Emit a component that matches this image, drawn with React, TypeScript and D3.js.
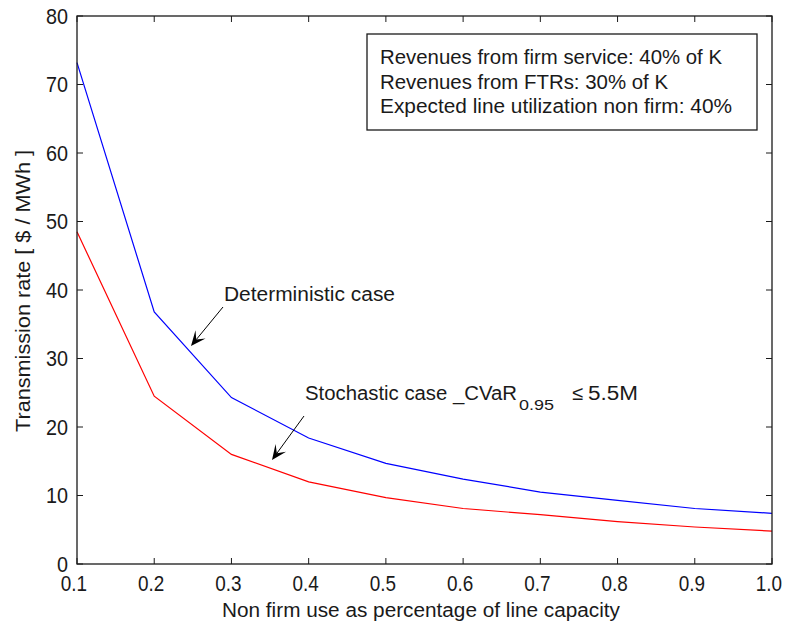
import React from "react";
import * as d3 from "d3";

// Non-firm use share of line capacity
const usage = [0.1, 0.2, 0.3, 0.4, 0.5, 0.6, 0.7, 0.8, 0.9, 1.0];
// Transmission rate, deterministic case [$ / MWh]
const deterministic = [73.2, 36.8, 24.3, 18.4, 14.7, 12.4, 10.5, 9.3, 8.1, 7.4];
// Transmission rate, stochastic case with CVaR constraint [$ / MWh]
const stochastic = [48.5, 24.5, 16.0, 12.0, 9.7, 8.1, 7.2, 6.2, 5.4, 4.8];

const xTicks = [0.1, 0.2, 0.3, 0.4, 0.5, 0.6, 0.7, 0.8, 0.9, 1.0];
const yTicks = [0, 10, 20, 30, 40, 50, 60, 70, 80];

const infoLines = [
  { text: "Revenues from firm service: 40% of K", width: 342 },
  { text: "Revenues from FTRs: 30% of K", width: 288 },
  { text: "Expected line utilization non firm: 40%", width: 352 },
];

const W = 785;
const H = 624;
const left = 77;
const right = 772;
const top = 16;
const bottom = 564;
const font = "'Liberation Sans', Arial, sans-serif";
const ink = "#1a1a1a";

function Arrow({ x1, y1, x2, y2 }: { x1: number; y1: number; x2: number; y2: number }) {
  const ang = Math.atan2(y2 - y1, x2 - x1);
  const len = 15;
  const half = 6.5;
  const bx = x2 - len * Math.cos(ang);
  const by = y2 - len * Math.sin(ang);
  const nx = -Math.sin(ang);
  const ny = Math.cos(ang);
  const notch = 0.55;
  const mx = x2 - len * notch * Math.cos(ang);
  const my = y2 - len * notch * Math.sin(ang);
  const pts = [
    [x2, y2],
    [bx + nx * half, by + ny * half],
    [mx, my],
    [bx - nx * half, by - ny * half],
  ];
  return (
    <g>
      <line x1={x1} y1={y1} x2={mx} y2={my} stroke="#000" strokeWidth={1} />
      <polygon points={pts.map((p) => p.join(",")).join(" ")} fill="#000" />
    </g>
  );
}

export default function App() {
  const x = d3.scaleLinear().domain([0.1, 1.0]).range([left, right]);
  const y = d3.scaleLinear().domain([0, 80]).range([bottom, top]);
  const line = d3
    .line<number>()
    .x((_, i) => x(usage[i]))
    .y((d) => y(d));

  const tick = 6;
  return (
    <svg
      width={W}
      height={H}
      style={{ position: "absolute", left: 0, top: 0, background: "#fff" }}
      fontFamily={font}
    >
      <rect x={0} y={0} width={W} height={H} fill="#fff" />
      <path d={line(deterministic) || ""} fill="none" stroke="#0000ff" strokeWidth={1.2} />
      <path d={line(stochastic) || ""} fill="none" stroke="#ff0000" strokeWidth={1.2} />

      {/* axes box */}
      <rect x={left} y={top} width={right - left} height={bottom - top} fill="none" stroke={ink} strokeWidth={1.3} />

      {xTicks.map((t) => (
        <g key={"x" + t}>
          <line x1={x(t)} x2={x(t)} y1={bottom} y2={bottom - tick} stroke={ink} />
          <line x1={x(t)} x2={x(t)} y1={top} y2={top + tick} stroke={ink} />
          <text
            transform={`translate(${x(t) - 3},591) scale(0.86,1)`}
            fontSize={22}
            textAnchor="middle"
            fill={ink}
          >
            {t.toFixed(1)}
          </text>
        </g>
      ))}
      {yTicks.map((t) => (
        <g key={"y" + t}>
          <line x1={left} x2={left + tick} y1={y(t)} y2={y(t)} stroke={ink} />
          <line x1={right} x2={right - tick} y1={y(t)} y2={y(t)} stroke={ink} />
          <text
            transform={`translate(68,${y(t) + 7.5}) scale(0.9,1)`}
            fontSize={22}
            textAnchor="end"
            fill={ink}
          >
            {t}
          </text>
        </g>
      ))}

      <text
        x={421}
        y={617}
        fontSize={20}
        textAnchor="middle"
        textLength={398}
        lengthAdjust="spacingAndGlyphs"
        fill={ink}
      >
        Non firm use as percentage of line capacity
      </text>
      <text
        transform={`translate(30,291) rotate(-90)`}
        fontSize={21}
        textAnchor="middle"
        textLength={282}
        lengthAdjust="spacingAndGlyphs"
        fill={ink}
      >
        Transmission rate [ $ / MWh ]
      </text>

      {/* info box */}
      <rect x={367} y={34} width={390} height={96} fill="#fff" stroke={ink} strokeWidth={1.3} />
      {infoLines.map((s, i) => (
        <text
          key={s.text}
          x={380}
          y={64 + i * 24.5}
          fontSize={20}
          textLength={s.width}
          lengthAdjust="spacingAndGlyphs"
          fill={ink}
        >
          {s.text}
        </text>
      ))}

      {/* annotations */}
      <text x={224} y={301} fontSize={20} textLength={171} lengthAdjust="spacingAndGlyphs" fill={ink}>
        Deterministic case
      </text>
      <Arrow x1={223} y1={307} x2={191} y2={346} />

      <text x={305} y={400} fontSize={20} textLength={212} lengthAdjust="spacingAndGlyphs" fill={ink}>
        Stochastic case _CVaR
      </text>
      <text x={519} y={410} fontSize={15} textLength={35} lengthAdjust="spacingAndGlyphs" fill={ink}>
        0.95
      </text>
      <text x={572} y={400} fontSize={20} fill={ink}>
        ≤
      </text>
      <text x={588} y={400} fontSize={20} textLength={50} lengthAdjust="spacingAndGlyphs" fill={ink}>
        5.5M
      </text>
      <Arrow x1={304} y1={416} x2={272} y2={460} />
    </svg>
  );
}
